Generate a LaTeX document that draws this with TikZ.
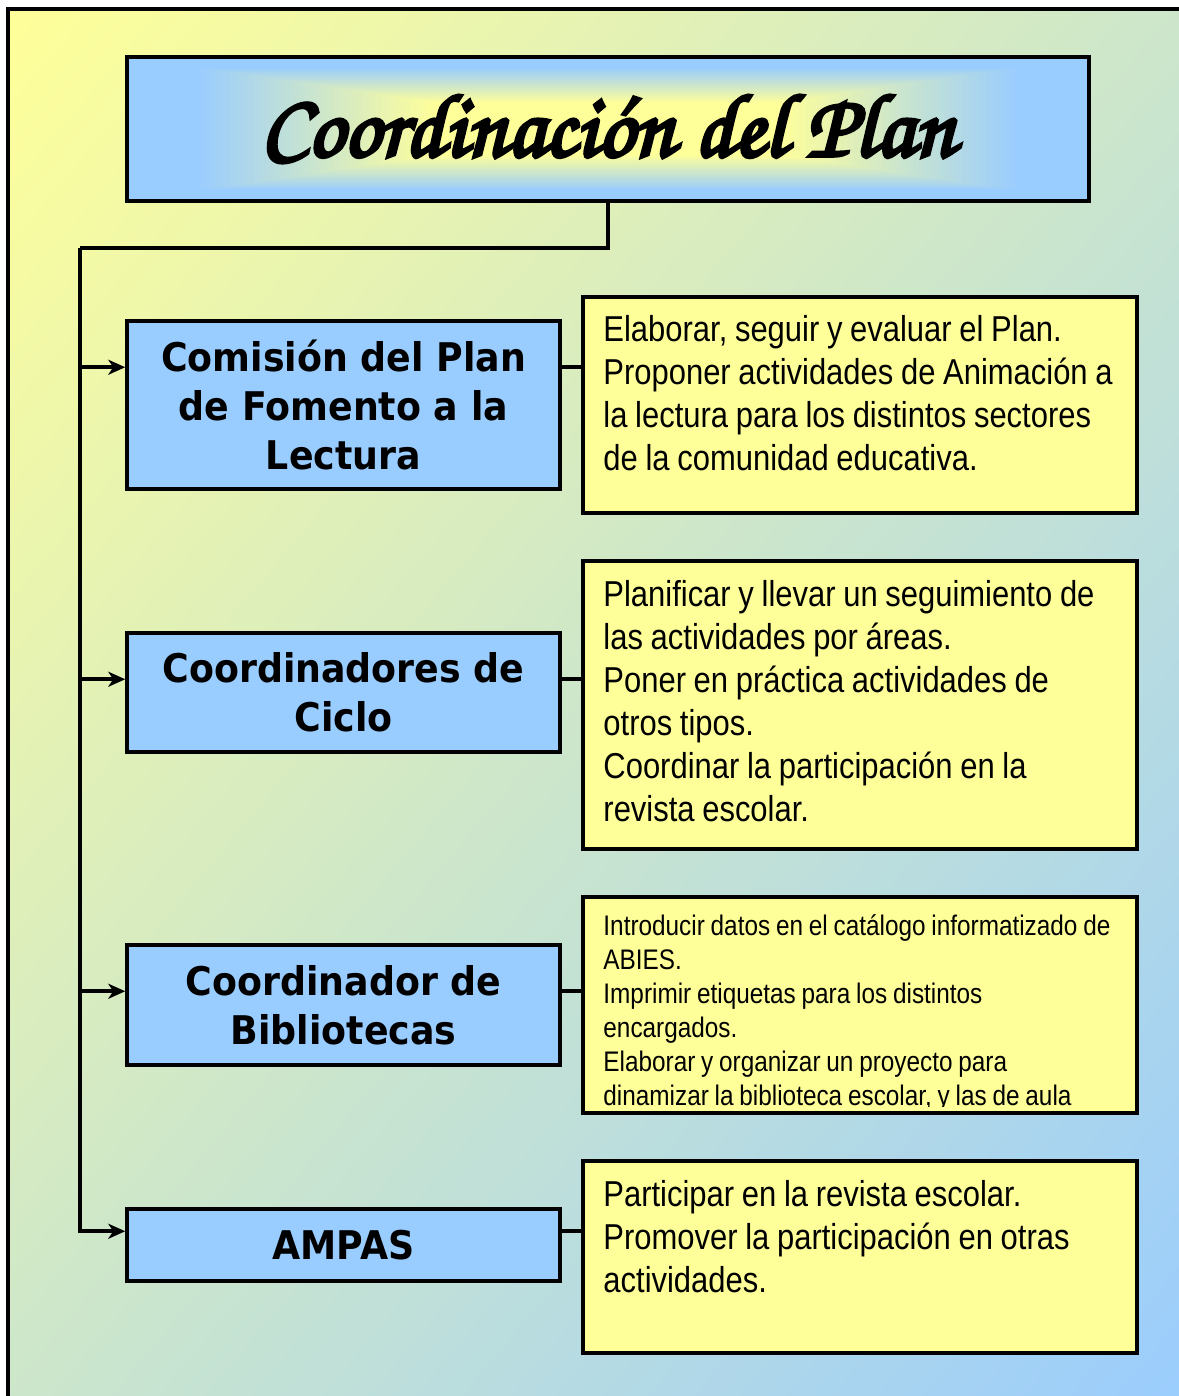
\documentclass[tikz,border=0pt]{standalone}
\usepackage{fontspec}
\usetikzlibrary{arrows.meta,calc,shadings}
\newfontfamily\boxfont{DejaVu Sans}[FakeStretch=0.92]
\newfontfamily\narrowfont{Liberation Sans}[FakeStretch=0.86]
\newfontfamily\titlefont{texgyrechorus-mediumitalic.otf}[FakeBold=4]
\definecolor{ylw}{HTML}{FFFF99}
\definecolor{blu}{HTML}{99CCFF}
\definecolor{mixc}{HTML}{CCE6CC}
\newcommand\bigtxt{\narrowfont\fontsize{36}{43}\selectfont}
\newcommand\smalltxt{\narrowfont\fontsize{28.3}{34}\selectfont}
\newcommand\wsbig{\spaceskip=7.7pt\relax\xspaceskip=7.7pt\relax}
\newcommand\wssmall{\spaceskip=5.8pt\relax\xspaceskip=5.8pt\relax}
\begin{document}
\begin{tikzpicture}[x=1pt,y=-1pt,
  lbox/.style={draw=black, line width=3.5pt, fill=blu, minimum width=433pt, inner sep=0pt, align=center,
    font=\boxfont\bfseries\fontsize{39.5}{49}\selectfont},
  rbox/.style={draw=black, line width=3.5pt, fill=ylw, minimum width=554pt, inner sep=0pt},
  rtext/.style={anchor=base west, inner sep=0pt, text width=530pt, align=left, font=\bigtxt},
  conn/.style={line width=4pt},
  arr/.style={line width=4pt, line join=miter, -{Stealth[length=17pt,width=15pt,inset=5pt]}}
]
\useasboundingbox (0,0) rectangle (1178,1396);
% background frame
\shade[upper left=ylw, lower right=blu, upper right=mixc, lower left=mixc] (8,9.5) rectangle (1200,1420);
\draw[line width=4pt] (8,9.5) rectangle (1200,1420);
% title
\node[draw=black, line width=3.5pt, fill=blu, minimum width=962pt, minimum height=144pt, inner sep=0pt,
  font=\titlefont\fontsize{90}{100}\selectfont,
  path picture={
    \foreach \k in {0,...,40}{
      \pgfmathsetmacro\dd{0.86-0.5*\k/40}
      \pgfmathsetmacro\pp{100*\k/40}
      \fill[ylw!\pp!blu] ($(path picture bounding box.center)+(-\dd*481,-\dd*72)$) rectangle ($(path picture bounding box.center)+(\dd*481,\dd*72)$);
    }
  }] (T) at (608,129) {Coordinación del Plan};
% left boxes
\node[lbox, minimum height=168pt] (L1) at (343.5,405) {Comisión del Plan\\ de Fomento a la\\ Lectura};
\node[lbox, minimum height=119pt] (L2) at (343.5,692.5) {Coordinadores de\\ Ciclo};
\node[lbox, minimum height=120pt] (L3) at (343.5,1005) {Coordinador de\\ Bibliotecas};
\node[lbox, minimum height=72pt] (L4) at (343.5,1245) {AMPAS};
% right boxes
\node[rbox, minimum height=216pt] (R1) at (860,405) {};
\node[rbox, minimum height=288pt] (R2) at (860,705) {};
\node[rbox, minimum height=216pt] (R3) at (860,1005) {};
\node[rbox, minimum height=192pt] (R4) at (860,1257) {};
\node[rtext] (t1) at ($(R1.north west)+(22,46)$) {\wsbig Elaborar, seguir y evaluar el Plan.\\ Proponer actividades de Animación a\\ la lectura para los distintos sectores\\ de la comunidad educativa.};
\node[rtext] (t2) at ($(R2.north west)+(22,47)$) {\wsbig Planificar y llevar un seguimiento de\\ las actividades por áreas.\\ Poner en práctica actividades de\\ otros tipos.\\ Coordinar la participación en la\\ revista escolar.};
\begin{scope}
\clip (R3.north west) rectangle ($(R3.south east)+(0,-8)$);
\node[rtext, font=\smalltxt] (t3) at ($(R3.north west)+(22,40)$) {\wssmall Introducir datos en el catálogo informatizado de\\ ABIES.\\ Imprimir etiquetas para los distintos\\ encargados.\\ Elaborar y organizar un proyecto para\\ dinamizar la biblioteca escolar, y las de aula};
\end{scope}
\node[rtext] (t4) at ($(R4.north west)+(22,47)$) {\wsbig Participar en la revista escolar.\\ Promover la participación en otras\\ actividades.};
% connectors
\coordinate (j) at (80,248);
\coordinate (a1) at ($(L1.north west)+(0,48)$);
\coordinate (a2) at ($(L2.north west)+(0,48)$);
\coordinate (a3) at ($(L3.north west)+(0,48)$);
\coordinate (a4) at ($(L4.north west)+(0,24)$);
\draw[conn, line join=miter] (T.south) |- (j);
\draw[arr] (j) |- (a4);
\draw[arr] (j |- a1) -- (a1);
\draw[arr] (j |- a2) -- (a2);
\draw[arr] (j |- a3) -- (a3);
\draw[conn] (a1 -| L1.east) -- (a1 -| R1.west);
\draw[conn] (a2 -| L2.east) -- (a2 -| R2.west);
\draw[conn] (a3 -| L3.east) -- (a3 -| R3.west);
\draw[conn] (a4 -| L4.east) -- (a4 -| R4.west);
\end{tikzpicture}
\end{document}
